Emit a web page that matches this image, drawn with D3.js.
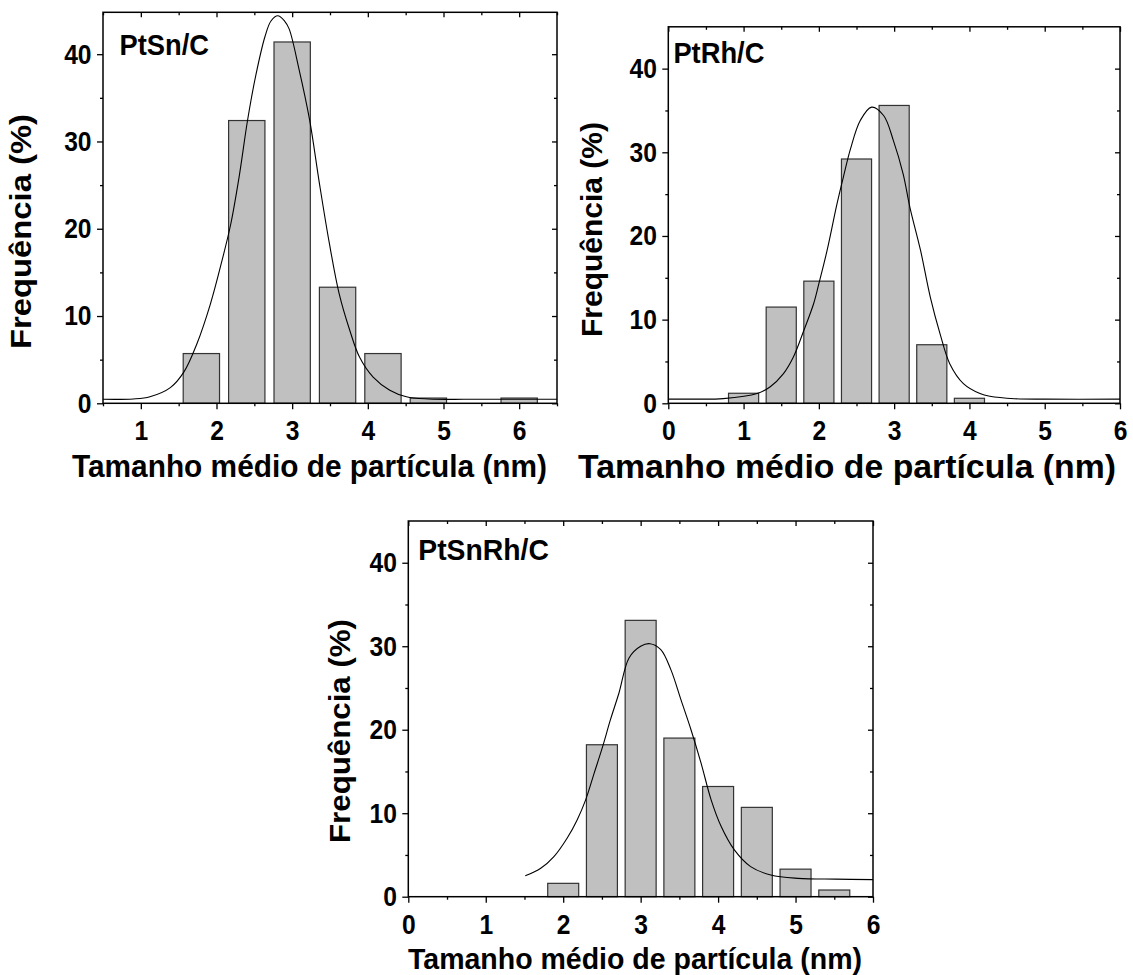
<!DOCTYPE html>
<html>
<head>
<meta charset="utf-8">
<script src="https://cdn.jsdelivr.net/npm/d3@7"></script>
<style>
body { margin: 0; background: #fff; }
svg text { font-family: "Liberation Sans", Arial, sans-serif; font-weight: bold; fill: #000; }
</style>
</head>
<body>
<svg id="fig" width="1133" height="975"></svg>
<script>
// PtSn/C histogram (bin centres in nm, frequency in %)
const ptsnCenters = [1.8, 2.4, 3.0, 3.6, 4.2, 4.8, 6.0];
const ptsnFreq = [5.7, 32.4, 41.4, 13.3, 5.7, 0.6, 0.6];
const ptsnFit = [[0.5, 0.46], [0.9, 0.5], [1.12, 0.75], [1.39, 1.8], [1.57, 3.6], [1.74, 6.8],
  [1.92, 11.4], [2.08, 16.6], [2.19, 20.6], [2.30, 26.0], [2.41, 32.4], [2.52, 37.6], [2.64, 42.0],
  [2.72, 43.8], [2.81, 44.4], [2.90, 43.8], [2.96, 42.9], [3.09, 38.3], [3.23, 32.5], [3.36, 25.2],
  [3.49, 18.4], [3.62, 12.6], [3.76, 8.4], [3.89, 5.3], [4.07, 3.0], [4.29, 1.5], [4.51, 0.75],
  [4.8, 0.5], [5.5, 0.46], [6.5, 0.46]];

// PtRh/C
const ptrhCenters = [1.0, 1.5, 2.0, 2.5, 3.0, 3.5, 4.0];
const ptrhFreq = [1.2, 11.5, 14.6, 29.2, 35.6, 7.0, 0.6];
const ptrhFit = [[0, 0.5], [0.3, 0.5], [0.73, 0.56], [1.18, 1.16], [1.35, 1.95], [1.53, 3.55],
  [1.66, 5.5], [1.80, 8.7], [1.93, 11.9], [2.0, 14.3], [2.11, 18.3], [2.24, 23.8], [2.33, 27.2],
  [2.42, 30.4], [2.55, 33.8], [2.70, 35.4], [2.86, 34.4], [2.99, 31.4], [3.12, 27.4], [3.21, 23.4],
  [3.35, 18.3], [3.48, 12.7], [3.61, 8.3], [3.74, 4.7], [3.92, 2.35], [4.14, 1.16], [4.27, 0.84],
  [4.6, 0.55], [5.0, 0.5], [6.0, 0.5]];

// PtSnRh/C
const ptsnrhCenters = [2.0, 2.5, 3.0, 3.5, 4.0, 4.5, 5.0, 5.5];
const ptsnrhFreq = [1.6, 18.2, 33.1, 19.0, 13.2, 10.7, 3.3, 0.8];
const ptsnrhFit = [[1.51, 2.5], [1.71, 3.4], [1.88, 4.8], [2.05, 7.0], [2.18, 9.2], [2.29, 11.6],
  [2.40, 14.8], [2.51, 18.0], [2.61, 21.2], [2.72, 24.4], [2.85, 28.6], [3.0, 30.0], [3.12, 30.3],
  [3.26, 29.6], [3.39, 27.2], [3.52, 23.6], [3.65, 20.0], [3.78, 16.0], [3.91, 11.6], [4.04, 8.4],
  [4.21, 5.6], [4.42, 3.6], [4.68, 2.6], [5.03, 2.2], [5.52, 2.1], [6.0, 2.05]];

// bin widths (nm) and ticks
const binWidths = [0.48, 0.4, 0.4];
const xTicksPtSn = [1, 2, 3, 4, 5, 6];
const xTicksOther = [0, 1, 2, 3, 4, 5, 6];
const yTicks = [0, 10, 20, 30, 40];
const yMinor = [5, 15, 25, 35];
const labels = ["PtSn/C", "PtRh/C", "PtSnRh/C"];
const xTitle = "Tamanho médio de partícula (nm)";
const yTitle = "Frequência (%)";

const svg = d3.select("#fig");

// layout of the three panels
const panels = [
  { label: labels[0], centers: ptsnCenters, freq: ptsnFreq, fit: ptsnFit, bw: binWidths[0],
    xDomain: [0.5, 6.5], yMax: 44.8, xTicks: xTicksPtSn,
    left: 103, right: 557, top: 12.3, bottom: 403.3,
    labelX: 119.5, labelY: 55, labelLen: 89.5,
    xtX0: 72, xtX1: 547, xtY: 477, xtSize: 31, ytX: 31, ytY0: 114, ytY1: 349 },
  { label: labels[1], centers: ptrhCenters, freq: ptrhFreq, fit: ptrhFit, bw: binWidths[1],
    xDomain: [0, 6], yMax: 45, xTicks: xTicksOther,
    left: 668.3, right: 1120, top: 26.8, bottom: 403.3,
    labelX: 673.4, labelY: 63, labelLen: 91,
    xtX0: 578, xtX1: 1116, xtY: 478, xtSize: 33, ytX: 602, ytY0: 122, ytY1: 337 },
  { label: labels[2], centers: ptsnrhCenters, freq: ptsnrhFreq, fit: ptsnrhFit, bw: binWidths[2],
    xDomain: [0, 6], yMax: 45, xTicks: xTicksOther,
    left: 408.3, right: 873, top: 521, bottom: 896.7,
    labelX: 418.3, labelY: 560, labelLen: 130.6,
    xtX0: 408, xtX1: 862, xtY: 969, xtSize: 30, ytX: 350, ytY0: 619, ytY1: 843 }
];

function styleAxis(sel) {
  sel.select(".domain").remove();
  sel.selectAll("line").attr("stroke", "#000").attr("stroke-width", 1.3);
  sel.selectAll("text")
    .style("font-size", "28px")
    .attr("transform", "scale(0.88,1)");
}

panels.forEach(p => {
  const x = d3.scaleLinear().domain(p.xDomain).range([p.left, p.right]);
  const y = d3.scaleLinear().domain([0, p.yMax]).range([p.bottom, p.top]);
  const g = svg.append("g");

  const xMinor = d3.range(p.xDomain[0], p.xDomain[1] + 0.01, 0.5).filter(v => !p.xTicks.includes(v));

  // bars
  g.selectAll("rect.bar")
    .data(p.centers.map((c, i) => ({ c: c, f: p.freq[i] })))
    .enter().append("rect")
    .attr("class", "bar")
    .attr("x", d => x(d.c - p.bw / 2))
    .attr("width", d => x(d.c + p.bw / 2) - x(d.c - p.bw / 2))
    .attr("y", d => y(d.f))
    .attr("height", d => y(0) - y(d.f))
    .attr("fill", "#c0c0c0")
    .attr("stroke", "#333")
    .attr("stroke-width", 1.2);

  // fitted curve
  g.append("path")
    .datum(p.fit)
    .attr("fill", "none")
    .attr("stroke", "#000")
    .attr("stroke-width", 1.1)
    .attr("d", d3.line().x(d => x(d[0])).y(d => y(d[1])).curve(d3.curveCatmullRom));

  // axes: major + minor on all four sides
  g.append("g").attr("transform", `translate(0,${p.bottom})`)
    .call(d3.axisBottom(x).tickValues(p.xTicks).tickSize(6).tickPadding(11).tickFormat(d3.format("d")))
    .call(styleAxis);
  g.append("g").attr("transform", `translate(0,${p.bottom})`)
    .call(d3.axisBottom(x).tickValues(xMinor).tickSize(3).tickFormat(""))
    .call(styleAxis);
  g.append("g").attr("transform", `translate(${p.left},0)`)
    .call(d3.axisLeft(y).tickValues(yTicks).tickSize(6).tickPadding(7).tickFormat(d3.format("d")))
    .call(styleAxis);
  g.append("g").attr("transform", `translate(${p.left},0)`)
    .call(d3.axisLeft(y).tickValues(yMinor).tickSize(3).tickFormat(""))
    .call(styleAxis);
  g.append("g").attr("transform", `translate(0,${p.top})`)
    .call(d3.axisTop(x).tickValues(p.xTicks).tickSize(-5).tickFormat(""))
    .call(styleAxis);
  g.append("g").attr("transform", `translate(0,${p.top})`)
    .call(d3.axisTop(x).tickValues(xMinor).tickSize(-3).tickFormat(""))
    .call(styleAxis);
  g.append("g").attr("transform", `translate(${p.right},0)`)
    .call(d3.axisRight(y).tickValues(yTicks).tickSize(-5).tickFormat(""))
    .call(styleAxis);
  g.append("g").attr("transform", `translate(${p.right},0)`)
    .call(d3.axisRight(y).tickValues(yMinor).tickSize(-3).tickFormat(""))
    .call(styleAxis);

  // frame
  g.append("rect")
    .attr("x", p.left).attr("y", p.top)
    .attr("width", p.right - p.left).attr("height", p.bottom - p.top)
    .attr("fill", "none").attr("stroke", "#000").attr("stroke-width", 1.5);

  // panel label
  g.append("text")
    .attr("x", p.labelX).attr("y", p.labelY)
    .attr("textLength", p.labelLen).attr("lengthAdjust", "spacingAndGlyphs")
    .style("font-size", "30px")
    .text(p.label);

  // x title
  g.append("text")
    .attr("x", p.xtX0).attr("y", p.xtY)
    .attr("textLength", p.xtX1 - p.xtX0).attr("lengthAdjust", "spacingAndGlyphs")
    .style("font-size", p.xtSize + "px")
    .text(xTitle);

  // y title
  g.append("text")
    .attr("transform", `translate(${p.ytX},${(p.ytY0 + p.ytY1) / 2}) rotate(-90)`)
    .attr("text-anchor", "middle")
    .attr("textLength", p.ytY1 - p.ytY0).attr("lengthAdjust", "spacingAndGlyphs")
    .style("font-size", "29px")
    .text(yTitle);
});
</script>
</body>
</html>
